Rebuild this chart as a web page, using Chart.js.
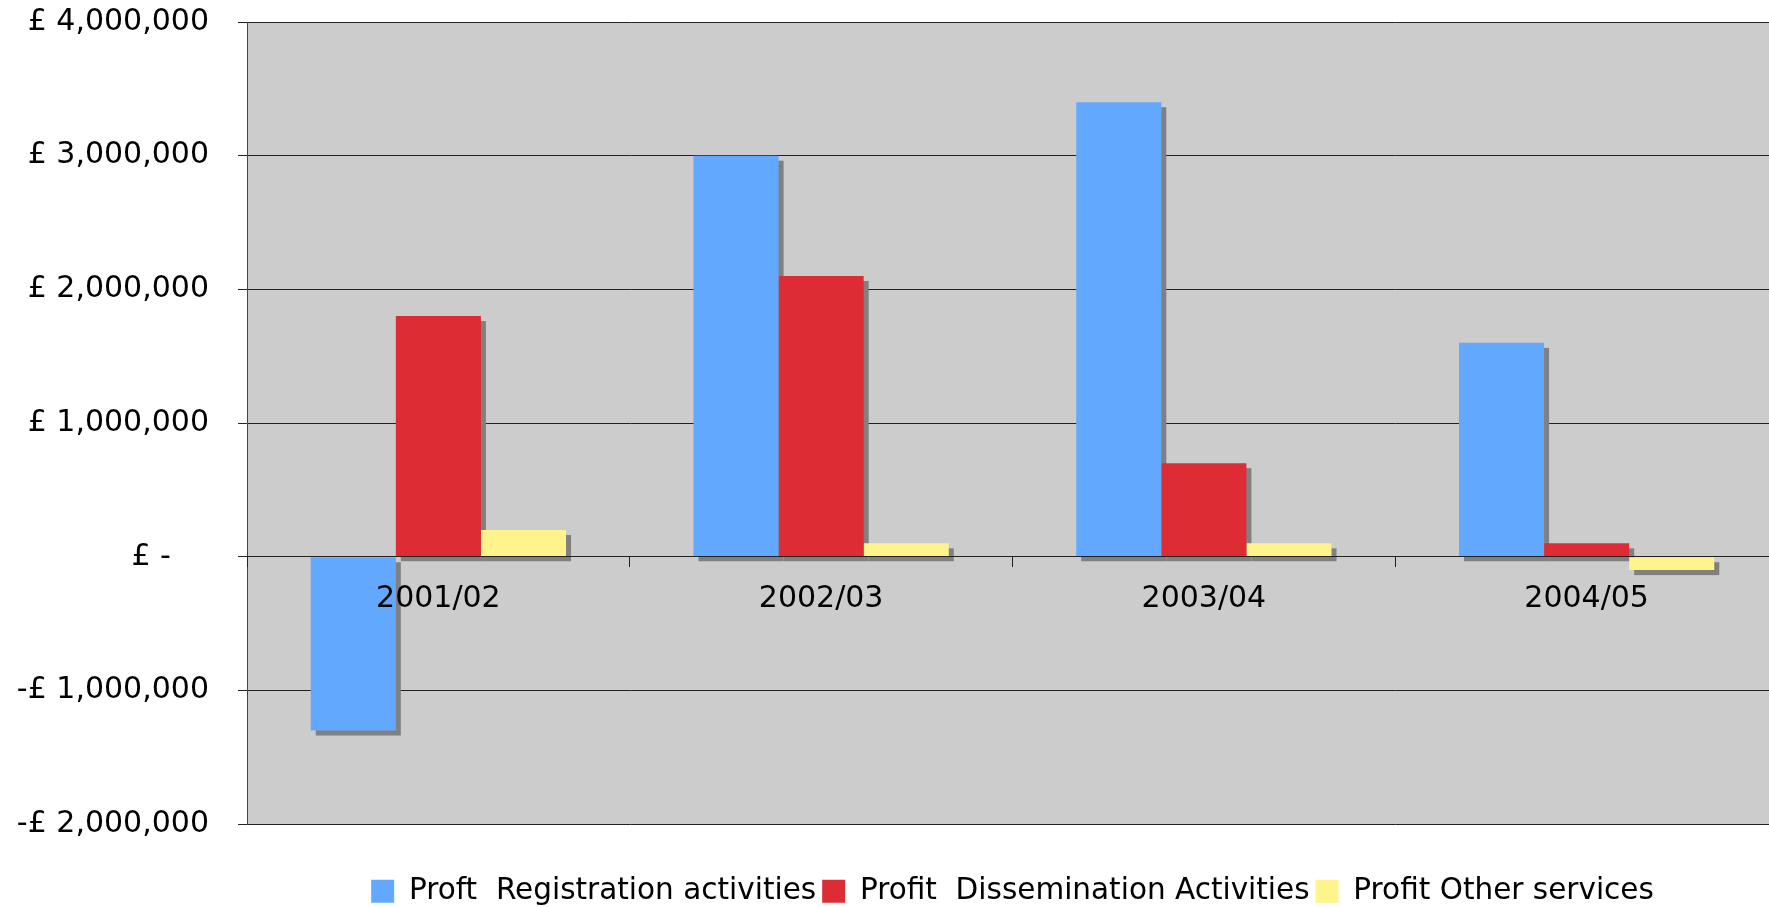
<!DOCTYPE html>
<html lang="en">
<head>
    <meta charset="UTF-8">
    <title>Profit by year</title>
    <style>
        html, body {
            margin: 0;
            padding: 0;
            background: #fff;
            overflow: hidden;
        }
        #chart {
            display: block;
        }
    </style>
</head>
<body>
    <canvas id="chart" width="1780" height="916"></canvas>
    <script src="https://cdn.jsdelivr.net/npm/chart.js"></script>
    <script>
        // Chart data
        const years = ['2001/02', '2002/03', '2003/04', '2004/05'];
        const registration = [-1300000, 3000000, 3400000, 1600000];
        const dissemination = [1800000, 2100000, 700000, 100000];
        const otherServices = [200000, 100000, 100000, -100000];
        const seriesNames = ['Proft  Registration activities', 'Profit  Dissemination Activities', 'Profit Other services'];
        const yMin = -2000000;
        const yMax = 4000000;
        const yStep = 1000000;

        const FONT = "'DejaVu Sans', Verdana, sans-serif";

        function money(v) {
            if (v === 0) return '£ -\u2007\u2007';
            const s = Math.abs(v).toLocaleString('en-GB');
            return (v < 0 ? '-£ ' : '£ ') + s;
        }

        // grey plot area
        const plotBackground = {
            id: 'plotBackground',
            beforeDraw(chart) {
                const a = chart.chartArea;
                const ctx = chart.ctx;
                ctx.save();
                ctx.fillStyle = '#cccccc';
                ctx.fillRect(a.left, a.top, a.right - a.left, a.bottom - a.top);
                ctx.restore();
            }
        };

        // drop shadows behind every bar
        const barShadows = {
            id: 'barShadows',
            beforeDatasetsDraw(chart) {
                const ctx = chart.ctx;
                ctx.save();
                ctx.fillStyle = '#808080';
                chart.getSortedVisibleDatasetMetas().forEach(meta => {
                    meta.data.forEach(bar => {
                        const p = bar.getProps(['x', 'y', 'base', 'width'], true);
                        const top = Math.min(p.y, p.base);
                        const h = Math.abs(p.base - p.y);
                        ctx.fillRect(p.x - p.width / 2 + 5, top + 5, p.width, h);
                    });
                });
                ctx.restore();
            }
        };

        function noPadding(scale) {
            scale.paddingTop = 0;
            scale.paddingBottom = 0;
        }

        const ctx = document.getElementById('chart').getContext('2d');
        const myChart = new Chart(ctx, {
            type: 'bar',
            data: {
                labels: years,
                datasets: [
                    { label: seriesNames[0], data: registration, backgroundColor: '#63a8ff' },
                    { label: seriesNames[1], data: dissemination, backgroundColor: '#dd2c33' },
                    { label: seriesNames[2], data: otherServices, backgroundColor: '#fff38c' }
                ]
            },
            options: {
                responsive: false,
                animation: false,
                devicePixelRatio: 1,
                layout: {
                    padding: { top: 22, right: 2, left: 0, bottom: 0 }
                },
                datasets: {
                    bar: {
                        categoryPercentage: 0.667,
                        barPercentage: 1.0,
                        borderWidth: 0
                    }
                },
                plugins: {
                    tooltip: { enabled: false },
                    legend: {
                        position: 'bottom',
                        fullSize: false,
                        title: {
                            display: true,
                            text: '',
                            font: { size: 12 },
                            padding: { top: 32, bottom: 0 }
                        },
                        labels: {
                            boxWidth: 23,
                            boxHeight: 23,
                            padding: 6,
                            color: '#000',
                            font: { family: FONT, size: 29.5 }
                        }
                    }
                },
                scales: {
                    x: {
                        position: { y: 0 },
                        afterFit: noPadding,
                        grid: {
                            offset: true,
                            drawOnChartArea: false,
                            drawTicks: true,
                            tickLength: 10,
                            color: '#222',
                            z: 1
                        },
                        border: { color: '#222', width: 1, z: 1 },
                        ticks: {
                            color: '#000',
                            padding: 14,
                            z: 1,
                            font: { family: FONT, size: 30 }
                        }
                    },
                    y: {
                        min: yMin,
                        max: yMax,
                        afterFit(scale) {
                            scale.width = 247;
                            noPadding(scale);
                        },
                        grid: {
                            color: '#222',
                            lineWidth: 1,
                            tickLength: 9
                        },
                        border: { color: '#444', width: 1 },
                        ticks: {
                            stepSize: yStep,
                            color: '#000',
                            padding: 29,
                            font: { family: FONT, size: 30 },
                            callback: v => money(v)
                        }
                    }
                }
            },
            plugins: [plotBackground, barShadows]
        });
    </script>
</body>
</html>
